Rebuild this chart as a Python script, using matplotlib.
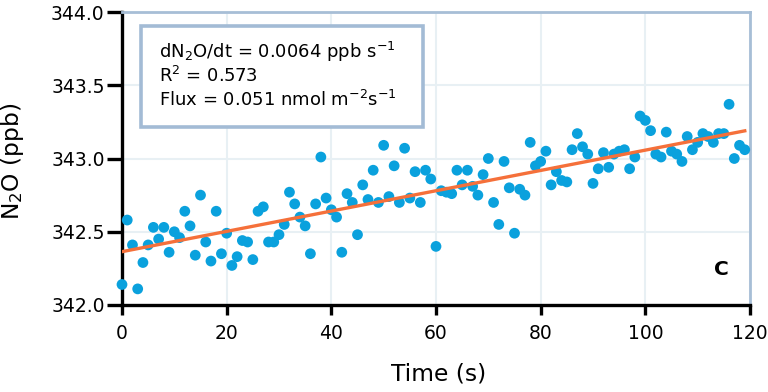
import numpy as np
import matplotlib
matplotlib.use("Agg")
import matplotlib.pyplot as plt
from matplotlib.patches import Rectangle

time_s = np.arange(0, 120)
n2o_ppb = [
    342.14, 342.58, 342.41, 342.11, 342.29, 342.41, 342.53, 342.45, 342.53, 342.36,
    342.50, 342.46, 342.64, 342.54, 342.34, 342.75, 342.43, 342.30, 342.64, 342.35,
    342.49, 342.27, 342.33, 342.44, 342.43, 342.31, 342.64, 342.67, 342.43, 342.43,
    342.48, 342.55, 342.77, 342.69, 342.60, 342.54, 342.35, 342.69, 343.01, 342.73,
    342.65, 342.60, 342.36, 342.76, 342.70, 342.48, 342.82, 342.72, 342.92, 342.70,
    343.09, 342.74, 342.95, 342.70, 343.07, 342.73, 342.91, 342.70, 342.92, 342.86,
    342.40, 342.78, 342.77, 342.76, 342.92, 342.82, 342.92, 342.81, 342.75, 342.89,
    343.00, 342.70, 342.55, 342.98, 342.80, 342.49, 342.79, 342.75, 343.11, 342.95,
    342.98, 343.05, 342.82, 342.91, 342.85, 342.84, 343.06, 343.17, 343.08, 343.03,
    342.83, 342.93, 343.04, 342.94, 343.03, 343.05, 343.06, 342.93, 343.01, 343.29,
    343.26, 343.19, 343.03, 343.01, 343.18, 343.05, 343.03, 342.98, 343.15, 343.06,
    343.11, 343.17, 343.15, 343.11, 343.17, 343.17, 343.37, 343.00, 343.09, 343.06,
]
x_ticks = [0, 20, 40, 60, 80, 100, 120]
y_ticks = [342.0, 342.5, 343.0, 343.5, 344.0]
annot_lines = [
    r"dN$_\mathregular{2}$O/dt = 0.0064 ppb s$^\mathregular{-1}$",
    r"R$^\mathregular{2}$ = 0.573",
    r"Flux = 0.051 nmol m$^\mathregular{-2}$s$^\mathregular{-1}$",
]
panel_label = "C"
x_label = "Time (s)"
y_label = r"N$_\mathregular{2}$O (ppb)"

plt.rcParams["font.family"] = ["DejaVu Sans"]

W, H = 768, 392
fig = plt.figure(figsize=(W / 100, H / 100), dpi=100)
L, R, T, B = 122, 750, 12, 305
ax = fig.add_axes([L / W, 1 - B / H, (R - L) / W, (B - T) / H])

ax.set_xlim(0, 120)
ax.set_ylim(342.0, 344.0)
ax.set_xticks(x_ticks)
ax.set_yticks(y_ticks)
ax.set_yticklabels([f"{v:.1f}" for v in y_ticks])
ax.grid(True, color="#e8f0f4", linewidth=1.5, zorder=0)
ax.set_axisbelow(True)

for s in ["left", "bottom"]:
    ax.spines[s].set_color("black")
    ax.spines[s].set_linewidth(2.4)
for s in ["top", "right"]:
    ax.spines[s].set_color("#a7bed6")
    ax.spines[s].set_linewidth(2.0)
ax.tick_params(axis="y", direction="out", length=10.5, width=2.4, color="black",
               labelsize=13.5, pad=2)
ax.tick_params(axis="x", direction="out", length=7, width=2.4, color="black",
               labelsize=13.5, pad=6.5)

ax.scatter(time_s, n2o_ppb, s=60, color="#0aa1dd", edgecolors="none", zorder=3,
           clip_on=False)

slope, intercept = np.polyfit(time_s, n2o_ppb, 1)
xl = np.array([time_s[0], time_s[-1]])
ax.plot(xl, intercept + slope * xl, color="#f5703a", linewidth=2.4, zorder=4)

fig.text(438.5 / W, 1 - 374 / H, x_label, fontsize=16.8, ha="center", va="center")
fig.text(13 / W, 1 - 161 / H, y_label, fontsize=16.8, ha="center", va="center",
         rotation=90)

# annotation box
box = Rectangle((141 / W, 1 - 127 / H), (423 - 141) / W, (127 - 26) / H,
                transform=fig.transFigure, facecolor="white", edgecolor="#a3bbd5",
                linewidth=2.6, zorder=5)
fig.patches.append(box)
for i, line in enumerate(annot_lines):
    fig.text(159 / W, 1 - (52 + i * 24) / H, line, fontsize=13,
             va="center", ha="left", zorder=6)

ax.text(0.954, 0.12, panel_label, transform=ax.transAxes, fontsize=14.5,
        fontweight="bold", ha="center", va="center")

fig.savefig("out.png", dpi=100)
